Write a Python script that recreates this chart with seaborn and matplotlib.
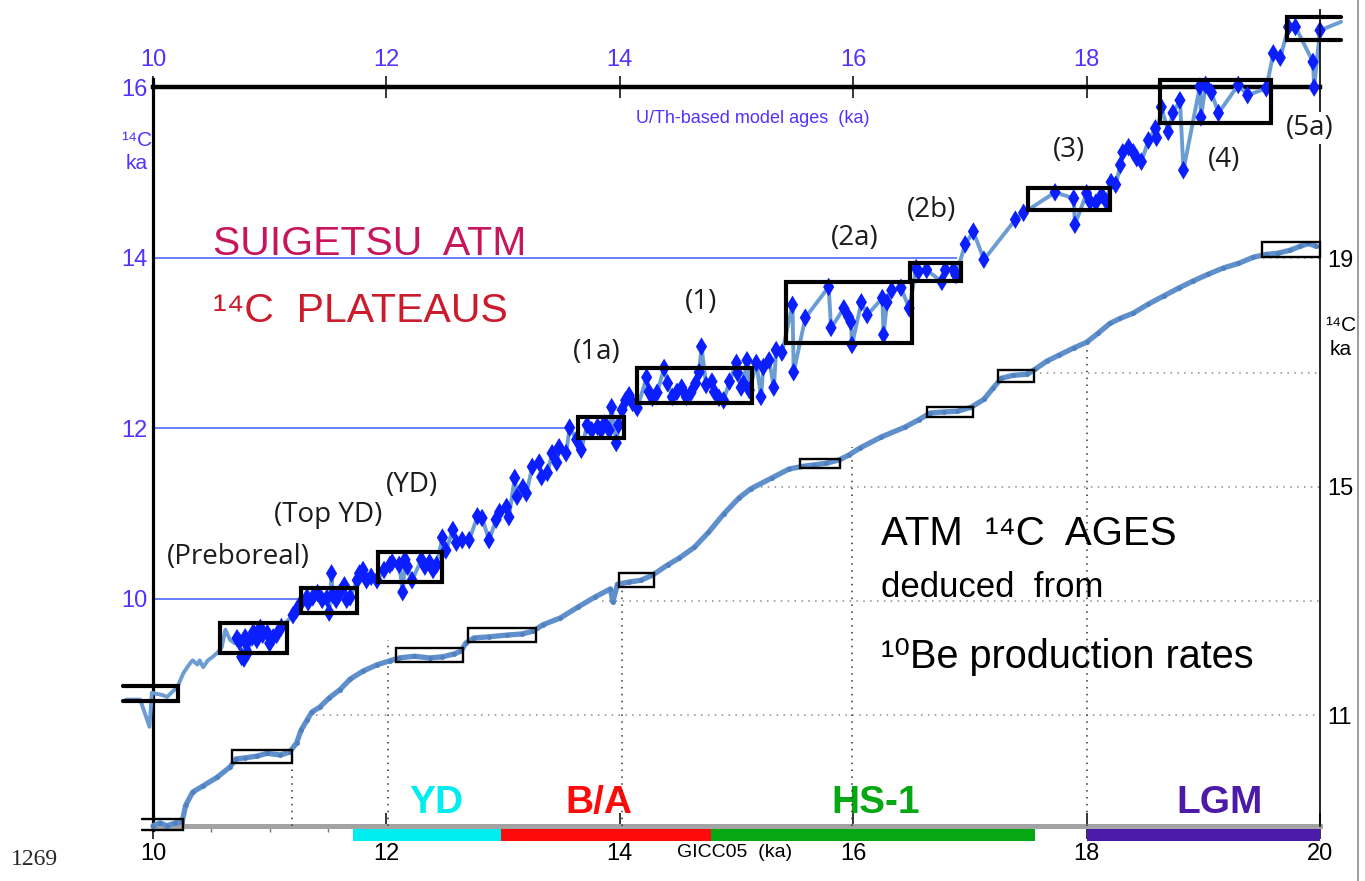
import matplotlib
matplotlib.use("Agg")
import matplotlib.pyplot as plt
import matplotlib.ticker as mticker
from matplotlib.patches import Rectangle
from matplotlib.lines import Line2D
import pandas as pd
import seaborn as sns

sns.set_theme(style="white")
SANS = ["Liberation Sans", "DejaVu Sans"]
NARROW = ["Liberation Sans Narrow", "Liberation Sans", "DejaVu Sans"]
NOTE = ["Open Sans", "DejaVu Sans"]
plt.rcParams["font.family"] = SANS

# ---------------- Suigetsu atmospheric 14C (left axis, U/Th model age) -------------
suig_lead_age = [9.77, 9.89, 9.97, 9.99, 10.09, 10.12, 10.21, 10.26, 10.32, 10.34,
                 10.38, 10.40, 10.43, 10.47, 10.51, 10.56, 10.59, 10.62, 10.66, 10.70]
suig_lead_c14 = [8.82, 8.82, 8.50, 8.90, 8.87, 8.85, 8.97, 9.13, 9.25, 9.28,
                 9.23, 9.28, 9.20, 9.28, 9.32, 9.38, 9.44, 9.64, 9.52, 9.48]

suig_age = [10.72, 10.74, 10.76, 10.78, 10.79, 10.80, 10.81, 10.85, 10.86, 10.89,
            10.92, 10.94, 10.98, 11.00, 11.03, 11.06, 11.10,
            11.20, 11.23, 11.27, 11.32,
            11.33, 11.37, 11.41, 11.45, 11.49, 11.51, 11.53, 11.54, 11.57, 11.60,
            11.64, 11.66, 11.69,
            11.75, 11.77, 11.80, 11.83, 11.87, 11.92,
            11.98, 12.03, 12.05, 12.11, 12.14, 12.16, 12.18, 12.22, 12.30, 12.33,
            12.37, 12.40, 12.43,
            12.48, 12.51, 12.57, 12.60, 12.65, 12.71, 12.78, 12.82, 12.88, 12.94,
            12.97, 13.03, 13.05, 13.10, 13.12, 13.17, 13.20, 13.25, 13.31, 13.33,
            13.38, 13.42, 13.46, 13.48, 13.54, 13.57, 13.63, 13.67,
            13.72, 13.76, 13.81, 13.84, 13.87, 13.91, 13.93, 13.97, 13.99,
            14.02, 14.05, 14.08, 14.11, 14.15,
            14.23, 14.25, 14.28, 14.32, 14.38, 14.41, 14.45, 14.49, 14.53, 14.57,
            14.61, 14.65, 14.68, 14.70, 14.74, 14.79, 14.81, 14.85, 14.89, 14.94,
            15.00, 15.01, 15.04, 15.06, 15.09, 15.11,
            15.17, 15.21, 15.23, 15.28, 15.32, 15.34, 15.39,
            15.48, 15.49, 15.59, 15.79, 15.81, 15.92, 15.96, 15.98, 15.99, 16.07,
            16.12, 16.25, 16.26, 16.29, 16.33, 16.41, 16.48,
            16.54, 16.56, 16.63, 16.76, 16.79, 16.86, 16.88,
            16.96, 17.03, 17.12, 17.39, 17.46,
            17.73, 17.89, 17.90, 18.00, 18.03, 18.08, 18.13, 18.17,
            18.21, 18.25, 18.29, 18.31, 18.36, 18.40, 18.43, 18.47, 18.53, 18.59,
            18.60, 18.64,
            18.70, 18.74, 18.80, 18.83, 18.97, 18.98, 19.02, 19.07, 19.13, 19.30,
            19.38, 19.54,
            19.60, 19.66, 19.73, 19.79, 19.94, 19.95, 20.00]
suig_c14 = [9.54, 9.50, 9.32, 9.30, 9.55, 9.48, 9.37, 9.55, 9.61, 9.52,
            9.66, 9.58, 9.60, 9.48, 9.55, 9.58, 9.67,
            9.81, 9.87, 9.96, 10.02,
            9.96, 10.02, 10.07, 9.99, 10.01, 9.84, 10.30, 10.05, 9.99, 10.07,
            10.16, 9.99, 10.02,
            10.22, 10.30, 10.34, 10.22, 10.26, 10.22,
            10.34, 10.40, 10.43, 10.40, 10.08, 10.46, 10.38, 10.22, 10.46, 10.38,
            10.43, 10.34, 10.40,
            10.72, 10.57, 10.81, 10.66, 10.69, 10.69, 10.97, 10.95, 10.69, 10.93,
            11.02, 11.08, 10.96, 11.42, 11.20, 11.31, 11.24, 11.55, 11.60, 11.43,
            11.48, 11.71, 11.60, 11.78, 11.71, 12.01, 11.87, 11.75,
            12.04, 11.98, 12.02, 11.98, 12.06, 11.98, 12.25, 11.83, 12.04,
            12.22, 12.33, 12.39, 12.30, 12.24,
            12.60, 12.43, 12.36, 12.42, 12.71, 12.53, 12.37, 12.43, 12.48, 12.37,
            12.42, 12.53, 12.66, 12.96, 12.51, 12.55, 12.43, 12.36, 12.33, 12.55,
            12.77, 12.65, 12.48, 12.53, 12.80, 12.45,
            12.77, 12.37, 12.72, 12.80, 12.48, 12.92, 12.89,
            13.45, 12.66, 13.30, 13.66, 13.18, 13.41, 13.31, 13.25, 12.98, 13.48,
            13.33, 13.53, 13.10, 13.48, 13.62, 13.65, 13.41,
            13.88, 13.84, 13.86, 13.72, 13.86, 13.86, 13.80,
            14.16, 14.31, 13.98, 14.45, 14.53,
            14.77, 14.70, 14.39, 14.76, 14.66, 14.65, 14.74, 14.66,
            14.89, 14.86, 15.09, 15.24, 15.30, 15.24, 15.17, 15.13, 15.38, 15.52,
            15.41, 15.77,
            15.48, 15.70, 15.85, 15.03, 16.01, 15.65, 16.03, 15.94, 15.70, 16.03,
            15.91, 15.99,
            16.40, 16.35, 16.71, 16.71, 16.30, 16.00, 16.67]
suig_tail_age = [20.18]
suig_tail_c14 = [16.77]

# plateau boxes on the Suigetsu record
suig_box_x0 = [10.57, 11.27, 11.93, 13.64, 14.15, 15.42, 16.49, 17.50, 18.63]
suig_box_x1 = [11.15, 11.75, 12.48, 14.04, 15.13, 16.50, 16.92, 18.20, 19.58]
suig_box_y0 = [9.37, 9.84, 10.20, 11.89, 12.30, 13.00, 13.73, 14.56, 15.58]
suig_box_y1 = [9.72, 10.13, 10.55, 12.13, 12.71, 13.72, 13.94, 14.82, 16.09]
suig_open_left = (9.74, 10.21, 8.80, 8.98)
suig_open_right = (19.72, 20.18, 16.56, 16.83)

plateau_names = ["(Preboreal)", "(Top YD)", "(YD)", "(1a)", "(1)", "(2a)", "(2b)",
                 "(3)", "(4)", "(5a)"]
plateau_x = [10.73, 11.50, 12.22, 13.80, 14.70, 16.01, 16.67, 17.85, 19.18, 19.91]
plateau_y = [10.49, 10.99, 11.34, 12.90, 13.48, 14.23, 14.56, 15.27, 15.15, 15.52]

# ---------------- 10Be-deduced 14C ages (right axis, GICC05 age) ---------------------
be10_age = [10.00, 10.06, 10.12, 10.19, 10.25, 10.28, 10.34, 10.43, 10.55, 10.66,
            10.71, 10.79, 10.89, 10.98, 11.09, 11.17, 11.23, 11.27, 11.32, 11.36,
            11.43, 11.51, 11.60, 11.69, 11.80, 11.92, 12.03, 12.11, 12.24, 12.37,
            12.48, 12.58, 12.64, 12.68, 12.75, 12.88, 13.03, 13.16, 13.26, 13.34,
            13.49, 13.64, 13.79, 13.92, 13.94, 13.98, 14.08, 14.18, 14.28, 14.41,
            14.51, 14.64, 14.76, 14.89, 15.02, 15.12, 15.30, 15.45, 15.58, 15.66,
            15.77, 15.88, 15.96, 16.06, 16.24, 16.44, 16.56, 16.66, 16.78, 16.89,
            17.01, 17.12, 17.20, 17.27, 17.37, 17.49, 17.56, 17.66, 17.76, 17.89,
            18.00, 18.10, 18.20, 18.29, 18.40, 18.53, 18.66, 18.79, 18.91, 19.04,
            19.17, 19.30, 19.43, 19.54, 19.64, 19.74, 19.83, 19.90, 19.97]
be10_c14 = [9.06, 9.11, 9.06, 9.11, 9.13, 9.42, 9.65, 9.76, 9.91, 10.09,
            10.23, 10.25, 10.28, 10.33, 10.30, 10.35, 10.51, 10.74, 10.91, 11.05,
            11.14, 11.30, 11.44, 11.63, 11.77, 11.88, 11.95, 12.00, 12.03, 12.00,
            12.02, 12.07, 12.12, 12.26, 12.35, 12.37, 12.40, 12.42, 12.47, 12.58,
            12.70, 12.89, 13.07, 13.21, 12.98, 13.29, 13.33, 13.36, 13.45, 13.63,
            13.75, 13.94, 14.20, 14.52, 14.80, 14.96, 15.15, 15.31, 15.36, 15.38,
            15.41, 15.47, 15.55, 15.68, 15.87, 16.04, 16.17, 16.29, 16.31, 16.32,
            16.39, 16.53, 16.73, 16.90, 16.95, 16.97, 17.06, 17.20, 17.30, 17.43,
            17.53, 17.69, 17.86, 17.95, 18.04, 18.20, 18.34, 18.48, 18.60, 18.72,
            18.83, 18.91, 19.02, 19.07, 19.09, 19.14, 19.21, 19.26, 19.21]

be10_box_x0 = [10.68, 12.08, 12.70, 13.99, 15.54, 16.63, 17.24, 19.50]
be10_box_x1 = [11.19, 12.66, 13.28, 14.29, 15.89, 17.03, 17.55, 20.00]
be10_box_y0 = [10.16, 11.93, 12.28, 13.24, 15.32, 16.22, 16.83, 19.02]
be10_box_y1 = [10.39, 12.17, 12.52, 13.49, 15.48, 16.39, 17.04, 19.28]
be10_open_left = (9.91, 10.26, 8.99, 9.18)

grid_c14 = [11, 13, 15, 17, 19]
grid_c14_start = [11.40, 13.85, 15.15, 17.54, 19.45]
guide_age = [11.19, 12.01, 14.02, 15.99, 18.00]
guide_top = [10.12, 12.31, 13.35, 15.70, 17.48]

# climate periods on the GICC05 scale
period_names = ["YD", "B/A", "HS-1", "LGM"]
period_start = [11.71, 12.98, 14.78, 18.00]
period_end = [12.98, 14.78, 17.56, 20.00]
period_colors = ["#00eef0", "#ff0a0a", "#05a812", "#4b1aa8"]
period_label_x = [12.43, 13.82, 16.19, 19.14]

# blue 14C reference lines of the left axis
ref_c14 = [10, 12, 14]
ref_end = [11.26, 13.57, 16.89]

BLUE_TXT = "#5232ff"
LINE_UP = "#6b9dd3"
LINE_LO = "#6090cc"
DIAMOND = "#0a1eff"

# ---------------- layout ------------------------------------------------------------
fig = plt.figure(figsize=(13.65, 8.81), dpi=100)
ax = fig.add_axes([153 / 1365, 55 / 881, 1167 / 1365, 816 / 881])
ax2 = ax.twinx()

YL = (7.337, 16.909)
YR = (9.056, 23.35)

# upper record: line + diamonds
df_line = pd.DataFrame({"age": suig_lead_age + suig_age + suig_tail_age,
                        "c14": suig_lead_c14 + suig_c14 + suig_tail_c14})
df_pts = pd.DataFrame({"age": suig_age, "c14": suig_c14})
sns.lineplot(data=df_line, x="age", y="c14", sort=False, estimator=None, ax=ax,
             color=LINE_UP, lw=2.8, clip_on=False, zorder=3,
             solid_capstyle="round", solid_joinstyle="round")
sns.scatterplot(data=df_pts, x="age", y="c14", ax=ax, marker="d", s=90,
                color=DIAMOND, edgecolor="none", clip_on=False, zorder=4)

# lower record
df_be = pd.DataFrame({"age": be10_age, "c14": be10_c14})
sns.lineplot(data=df_be, x="age", y="c14", sort=False, estimator=None, ax=ax2,
             color=LINE_LO, lw=3.8, marker="o", markersize=3.5, markeredgewidth=0,
             markerfacecolor="#4f80c0", clip_on=False, zorder=3)

ax.set_xlim(10, 20)
ax.set_ylim(*YL)
ax2.set_ylim(*YR)
for a in (ax, ax2):
    a.set_xlabel("")
    a.set_ylabel("")

# reference lines and dotted guides
ax.hlines(ref_c14, 10, ref_end, color="#3d5cff", lw=1.1, zorder=2)
ax2.hlines(grid_c14, grid_c14_start, 20, color="#8a8a8a", lw=1.1,
           linestyles=(0, (1, 3.5)), zorder=2)
ax2.vlines(guide_age, YR[0], guide_top, color="#333333", lw=1.1,
           linestyles=(0, (1, 3.5)), zorder=2)

# plateau boxes
for x0, x1, y0, y1 in zip(suig_box_x0, suig_box_x1, suig_box_y0, suig_box_y1):
    ax.add_patch(Rectangle((x0, y0), x1 - x0, y1 - y0, fill=False, ec="black",
                           lw=3.0, zorder=5, clip_on=False))
x0, x1, y0, y1 = suig_open_left
ax.plot([x0, x1, x1, x0], [y1, y1, y0, y0], color="black", lw=3.0,
        zorder=5, clip_on=False, solid_joinstyle="miter")
x0, x1, y0, y1 = suig_open_right
ax.plot([x1, x0, x0, x1], [y1, y1, y0, y0], color="black", lw=3.0,
        zorder=5, clip_on=False, solid_joinstyle="miter")

for x0, x1, y0, y1 in zip(be10_box_x0, be10_box_x1, be10_box_y0, be10_box_y1):
    ax2.add_patch(Rectangle((x0, y0), x1 - x0, y1 - y0, fill=False, ec="black",
                            lw=1.7, zorder=5, clip_on=False))
x0, x1, y0, y1 = be10_open_left
ax2.plot([x0, x1, x1, x0], [y1, y1, y0, y0], color="black", lw=1.7,
         zorder=5, clip_on=False, solid_joinstyle="miter")

# ---------------- spines and axes ---------------------------------------------------
for s in ("top", "right"):
    ax.spines[s].set_visible(False)
ax.spines["left"].set_color("black")
ax.spines["left"].set_linewidth(2.3)
ax.spines["left"].set_bounds(7.29, 16.1)
ax.spines["bottom"].set_color("#a3a3a3")
ax.spines["bottom"].set_linewidth(3.6)

for s in ("top", "left", "bottom"):
    ax2.spines[s].set_visible(False)
ax2.spines["right"].set_color("black")
ax2.spines["right"].set_linewidth(1.2)

# bottom GICC05 axis
ax.set_xticks([10, 12, 14, 16, 18, 20])
ax.set_xticklabels(["10", "12", "14", "16", "18", "20"])
ax.xaxis.set_minor_locator(mticker.FixedLocator([10.5, 11, 11.5]))
ax.tick_params(axis="x", which="major", direction="inout", length=19, width=1.1,
               color="black", labelsize=17, labelcolor="black", pad=3, bottom=True)
ax.tick_params(axis="x", which="minor", direction="out", length=4, width=1,
               color="#777777", bottom=True)
for t in ax.get_xticklabels():
    t.set_fontfamily(NARROW)

# left Suigetsu 14C axis
ax.set_yticks([10, 12, 14, 16])
ax.set_yticklabels(["10", "12", "14", "16"])
ax.tick_params(axis="y", length=0, labelsize=17, labelcolor=BLUE_TXT, pad=4)

# right 10Be 14C axis
ax2.set_yticks([11, 15, 19])
ax2.set_yticklabels(["11", "15", "19"])
ax2.tick_params(axis="y", length=0, labelsize=17, labelcolor="black", pad=5)
for t in ax2.get_yticklabels():
    t.set_fontfamily(NARROW)

# top U/Th axis drawn along the 16 ka line
loc16 = (16 - YL[0]) / (YL[1] - YL[0])
secax = ax.secondary_xaxis(loc16)
secax.set_xticks([10, 12, 14, 16, 18])
secax.set_xticklabels(["10", "12", "14", "16", "18"])
secax.tick_params(axis="x", direction="inout", length=16, width=1.1, color="black",
                  labelsize=17, labelcolor=BLUE_TXT, pad=4)
secax.spines["top"].set_linewidth(3.2)
secax.spines["top"].set_color("black")

# ---------------- period bars -------------------------------------------------------
xt = ax.get_xaxis_transform()
for a0, a1, c in zip(period_start, period_end, period_colors):
    ax.add_patch(Rectangle((a0, -0.0184), a1 - a0, 0.0159, transform=xt,
                           facecolor=c, edgecolor="none", clip_on=False, zorder=1))
for name, xc, c in zip(period_names, period_label_x, period_colors):
    ax.text(xc, 7.607, name, color=c, fontsize=28, fontweight="bold",
            ha="center", va="center", family=SANS)

# ---------------- texts -------------------------------------------------------------
ax.text(10.51, 14.03, "SUIGETSU  ATM", color="#c6165c", fontsize=29.5,
        ha="left", va="baseline", family=SANS, zorder=6)
ax.text(10.51, 13.25, "¹⁴C  PLATEAUS", color="#cc1b2b", fontsize=29.5,
        ha="left", va="baseline", family=SANS, zorder=6)
ax.text(16.24, 10.63, "ATM  ¹⁴C  AGES", color="black", fontsize=29,
        ha="left", va="baseline", family=SANS, zorder=6)
ax.text(16.24, 10.02, "deduced  from", color="black", fontsize=25,
        ha="left", va="baseline", family=SANS, zorder=6)
ax.text(16.24, 9.19, "¹⁰Be production rates", color="black", fontsize=28.5,
        ha="left", va="baseline", family=SANS, zorder=6)

ax.text(15.14, 15.64, "U/Th-based model ages  (ka)", color=BLUE_TXT, fontsize=13,
        ha="center", va="center", family=SANS)
ax.text(9.86, 15.38, "¹⁴C", color=BLUE_TXT, fontsize=15, ha="center", va="center",
        family=SANS)
ax.text(9.86, 15.11, "ka", color=BLUE_TXT, fontsize=15, ha="center", va="center",
        family=SANS)
ax.text(20.18, 13.21, "¹⁴C", color="black", fontsize=15, ha="center", va="center",
        family=NARROW)
ax.text(20.18, 12.93, "ka", color="black", fontsize=15, ha="center", va="center",
        family=NARROW)
ax.text(14.98, 7.03, "GICC05  (ka)", color="black", fontsize=14, ha="center",
        va="center", family=NARROW)

for name, xp, yp in zip(plateau_names, plateau_x, plateau_y):
    host = ax2 if name == "(5a)" else ax
    kw = {}
    if name == "(5a)":
        kw["bbox"] = dict(facecolor="white", edgecolor="none", pad=1.5)
    host.text(xp, yp, name, transform=ax.transData, color="#1c1c1c", fontsize=20,
              ha="center", va="center", family=NOTE, zorder=10, **kw)

fig.text(0.008, 0.024, "1269", fontsize=17, ha="left", va="center",
         family=["Liberation Serif", "DejaVu Serif"])
fig.add_artist(Line2D([1358 / 1365, 1358 / 1365], [0, 1], transform=fig.transFigure,
                      color="#8c8c8c", lw=1.2))

fig.savefig("out.png", dpi=100)
